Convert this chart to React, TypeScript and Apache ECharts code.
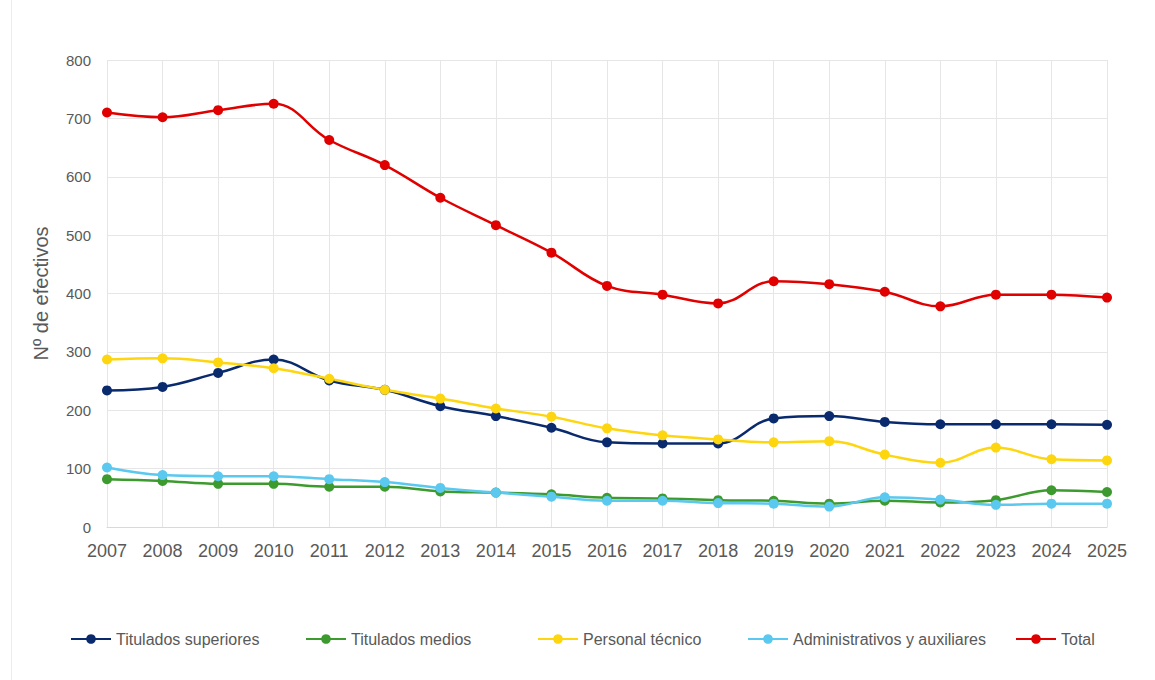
import React, { useEffect, useRef } from "react";
import * as echarts from "echarts";

const years = ["2007","2008","2009","2010","2011","2012","2013","2014","2015","2016","2017","2018","2019","2020","2021","2022","2023","2024","2025"];
const superiores = [234, 240, 264, 287, 251, 235, 207, 190, 170, 145, 143, 143, 186, 190, 180, 176, 176, 176, 175];
const medios = [82, 79, 74, 74, 69, 69, 61, 59, 56, 50, 49, 46, 45, 40, 45, 42, 46, 63, 60];
const tecnico = [287, 289, 282, 272, 254, 235, 220, 203, 189, 169, 157, 150, 145, 147, 124, 110, 136, 116, 114];
const administrativos = [102, 89, 87, 87, 82, 77, 67, 59, 52, 45, 45, 41, 40, 35, 51, 47, 38, 40, 40];
const total = [710, 702, 714, 725, 663, 620, 564, 517, 470, 413, 398, 383, 421, 416, 403, 378, 398, 398, 393];
const yTicks = [0, 100, 200, 300, 400, 500, 600, 700, 800];

const seriesDefs = [
  { name: "Titulados superiores", data: superiores, color: "#0a2a6e" },
  { name: "Titulados medios", data: medios, color: "#3d9a2e" },
  { name: "Personal técnico", data: tecnico, color: "#fdd60f" },
  { name: "Administrativos y auxiliares", data: administrativos, color: "#5ac8ef" },
  { name: "Total", data: total, color: "#e00000" },
];
const legendLefts = [70, 305, 537, 747, 1015];

export default function App() {
  const ref = useRef<HTMLDivElement>(null);
  useEffect(() => {
    document.body.style.margin = "0";
    const chart = echarts.init(ref.current!, null, { renderer: "svg" });
    chart.setOption({
      animation: false,
      backgroundColor: "#ffffff",
      grid: { left: 107, right: 48, top: 60, bottom: 153 },
      legend: seriesDefs.map((s, i) => ({
        data: [s.name],
        left: legendLefts[i],
        top: 631,
        padding: 0,
        itemWidth: 40,
        itemHeight: 12,
        textStyle: { fontSize: 16, color: "#595959", fontFamily: "Liberation Sans, Arial, sans-serif" },
      })),
      xAxis: {
        type: "category",
        data: years,
        boundaryGap: false,
        axisLine: { lineStyle: { color: "#d9d9d9" } },
        axisTick: { show: false },
        axisLabel: { fontSize: 18, color: "#595959", margin: 15, fontFamily: "Liberation Sans, Arial, sans-serif" },
        splitLine: { show: true, lineStyle: { color: "#e6e6e6" } },
      },
      yAxis: {
        type: "value",
        min: yTicks[0],
        max: yTicks[yTicks.length - 1],
        interval: 100,
        name: "Nº de efectivos",
        nameLocation: "middle",
        nameGap: 56,
        nameTextStyle: { fontSize: 20, color: "#595959", fontFamily: "Liberation Sans, Arial, sans-serif" },
        axisLine: { show: false },
        axisTick: { show: false },
        axisLabel: { fontSize: 15, color: "#595959", margin: 16, fontFamily: "Liberation Sans, Arial, sans-serif" },
        splitLine: { lineStyle: { color: "#e6e6e6" } },
      },
      graphic: [
        { type: "line", shape: { x1: 11.5, y1: 0, x2: 11.5, y2: 680 }, style: { stroke: "#ececec", lineWidth: 1 } },
      ],
      series: seriesDefs.map((s) => ({
        name: s.name,
        type: "line",
        data: s.data,
        smooth: 0.4,
        symbol: "circle",
        symbolSize: 10,
        color: s.color,
        lineStyle: { width: 2.5, color: s.color },
        itemStyle: { color: s.color },
      })),
    });
    return () => chart.dispose();
  }, []);
  return <div ref={ref} style={{ width: 1155, height: 680 }} />;
}
